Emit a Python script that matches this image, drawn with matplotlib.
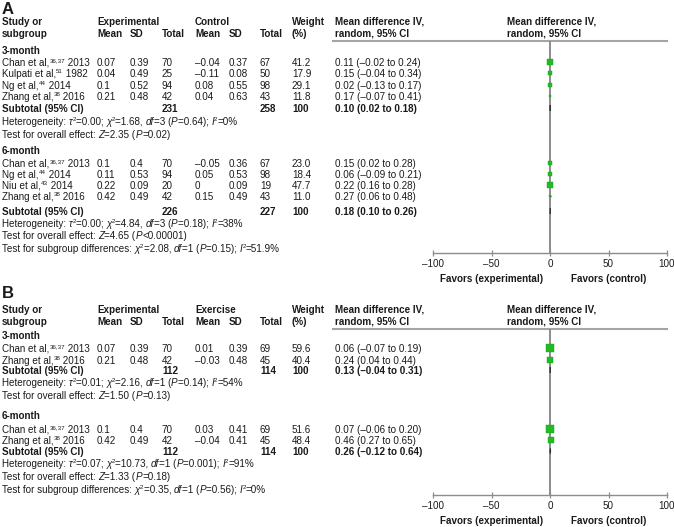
import re
import matplotlib.pyplot as plt
from matplotlib.patches import Polygon
from matplotlib.font_manager import FontProperties

FAMILY = ['Liberation Sans', 'DejaVu Sans']
plt.rcParams['font.family'] = FAMILY

# ---- panel A, 3-month ----
a3_study = ['Chan et al,^{36,37} 2013', 'Kulpati et al,^{51} 1982',
            'Ng et al,^{44} 2014', 'Zhang et al,^{38} 2016']
a3_exp_mean = ['0.07', '0.04', '0.1', '0.21']
a3_exp_sd = ['0.39', '0.49', '0.52', '0.48']
a3_exp_n = [70, 25, 94, 42]
a3_ctl_mean = ['-0.04', '-0.11', '0.08', '0.04']
a3_ctl_sd = ['0.37', '0.08', '0.55', '0.63']
a3_ctl_n = [67, 50, 98, 43]
a3_weight = [41.2, 17.9, 29.1, 11.8]
a3_md = [0.11, 0.15, 0.02, 0.17]
a3_lo = [-0.02, -0.04, -0.13, -0.07]
a3_hi = [0.24, 0.34, 0.17, 0.41]
a3_total = [231, 258]
a3_sub = [0.10, 0.02, 0.18]
a3_het = 'Heterogeneity: $τ$^{2}=0.00; $χ$^{2}=1.68, $df$=3 ($P$=0.64); $I$^{2}=0%'
a3_test = 'Test for overall effect: $Z$=2.35 ($P$=0.02)'

# ---- panel A, 6-month ----
a6_study = ['Chan et al,^{36,37} 2013', 'Ng et al,^{44} 2014',
            'Niu et al,^{43} 2014', 'Zhang et al,^{38} 2016']
a6_exp_mean = ['0.1', '0.11', '0.22', '0.42']
a6_exp_sd = ['0.4', '0.53', '0.09', '0.49']
a6_exp_n = [70, 94, 20, 42]
a6_ctl_mean = ['-0.05', '0.05', '0', '0.15']
a6_ctl_sd = ['0.36', '0.53', '0.09', '0.49']
a6_ctl_n = [67, 98, 19, 43]
a6_weight = [23.0, 18.4, 47.7, 11.0]
a6_md = [0.15, 0.06, 0.22, 0.27]
a6_lo = [0.02, -0.09, 0.16, 0.06]
a6_hi = [0.28, 0.21, 0.28, 0.48]
a6_total = [226, 227]
a6_sub = [0.18, 0.10, 0.26]
a6_het = 'Heterogeneity: $τ$^{2}=0.00; $χ$^{2}=4.84, $df$=3 ($P$=0.18); $I$^{2}=38%'
a6_test = 'Test for overall effect: $Z$=4.65 ($P$<0.00001)'
a_diff = 'Test for subgroup differences: $χ$^{2}=2.08, $df$=1 ($P$=0.15); $I$^{2}=51.9%'

# ---- panel B, 3-month ----
b3_study = ['Chan et al,^{36,37} 2013', 'Zhang et al,^{38} 2016']
b3_exp_mean = ['0.07', '0.21']
b3_exp_sd = ['0.39', '0.48']
b3_exp_n = [70, 42]
b3_ctl_mean = ['0.01', '-0.03']
b3_ctl_sd = ['0.39', '0.48']
b3_ctl_n = [69, 45]
b3_weight = [59.6, 40.4]
b3_md = [0.06, 0.24]
b3_lo = [-0.07, 0.04]
b3_hi = [0.19, 0.44]
b3_total = [112, 114]
b3_sub = [0.13, -0.04, 0.31]
b3_het = 'Heterogeneity: $τ$^{2}=0.01; $χ$^{2}=2.16, $df$=1 ($P$=0.14); $I$^{2}=54%'
b3_test = 'Test for overall effect: $Z$=1.50 ($P$=0.13)'

# ---- panel B, 6-month ----
b6_study = ['Chan et al,^{36,37} 2013', 'Zhang et al,^{38} 2016']
b6_exp_mean = ['0.1', '0.42']
b6_exp_sd = ['0.4', '0.49']
b6_exp_n = [70, 42]
b6_ctl_mean = ['0.03', '-0.04']
b6_ctl_sd = ['0.41', '0.41']
b6_ctl_n = [69, 45]
b6_weight = [51.6, 48.4]
b6_md = [0.07, 0.46]
b6_lo = [-0.06, 0.27]
b6_hi = [0.20, 0.65]
b6_total = [112, 114]
b6_sub = [0.26, -0.12, 0.64]
b6_het = 'Heterogeneity: $τ$^{2}=0.07; $χ$^{2}=10.73, $df$=1 ($P$=0.001); $I$^{2}=91%'
b6_test = 'Test for overall effect: $Z$=1.33 ($P$=0.18)'
b_diff = 'Test for subgroup differences: $χ$^{2}=0.35, $df$=1 ($P$=0.56); $I$^{2}=0%'

xticks = [-100, -50, 0, 50, 100]

W, H = 674, 527
FS = 7.1
GREEN = '#22bb22'
GREY = '#8c8c8c'
INK = '#1a1a1a'
COLX = [2, 97, 130, 162, 195, 229, 260, 292, 335]
DY = 3.6  # centre -> baseline

fig = plt.figure(figsize=(W / 100, H / 100), dpi=100)
base = fig.add_axes([0, 0, 1, 1])
base.set_xlim(0, W)
base.set_ylim(H, 0)
base.axis('off')
renderer = fig.canvas.get_renderer()
TOK = re.compile(r'(\$[^$]*\$|\^\{[^}]*\})')


def d(s):
    return str(s).replace('-', '\u2013')


def width(s, size, weight, style):
    fp = FontProperties(family=FAMILY, size=size, weight=weight, style=style)
    w1 = renderer.get_text_width_height_descent(s + '|', fp, ismath=False)[0]
    w0 = renderer.get_text_width_height_descent('|', fp, ismath=False)[0]
    return (w1 - w0) * 100 / fig.dpi


def txt(x, y, s, bold=False, size=FS):
    # tiny markup: $..$ italic, ^{..} superscript
    weight = 'bold' if bold else 'normal'
    for part in TOK.split(str(s)):
        if not part:
            continue
        style, sz, dy = 'normal', size, 0
        if part.startswith('$'):
            part, style = part[1:-1], 'italic'
        elif part.startswith('^{'):
            part, sz, dy = part[2:-1], size * 0.62, -3.3
        base.text(x, y + DY + dy, part, fontsize=sz, fontweight=weight, fontstyle=style,
                  va='baseline', ha='left', color=INK)
        x += width(part, sz, weight, style)


def ci(m, l, h):
    return f'{m:.2f} ({l:.2f} to {h:.2f})'.replace('-', '\u2013')


def header(y1, y2, y_line, ctl_name):
    for x, s in [(2, 'Study or'), (97, 'Experimental'), (195, ctl_name),
                 (292, 'Weight'), (335, 'Mean difference IV,'), (507, 'Mean difference IV,')]:
        txt(x, y1, s, bold=True)
    for x, s in [(2, 'subgroup'), (97, 'Mean'), (130, 'SD'), (162, 'Total'),
                 (195, 'Mean'), (229, 'SD'), (260, 'Total'), (292, '(%)'),
                 (335, 'random, 95% CI'), (507, 'random, 95% CI')]:
        txt(x, y2, s, bold=True)
    base.plot([333, 667], [y_line, y_line], color='#a5a5a5', lw=1.5)


def forest_axes(top, bottom):
    ax = fig.add_axes([433 / W, 1 - bottom / H, 234 / W, (bottom - top) / H])
    ax.set_xlim(-100, 100)
    ax.set_ylim(bottom, top)
    ax.patch.set_alpha(0)
    for sp in ['top', 'left', 'right']:
        ax.spines[sp].set_visible(False)
    ax.spines['bottom'].set_color(GREY)
    ax.spines['bottom'].set_linewidth(1.0)
    ax.set_yticks([])
    ax.set_xticks(xticks)
    ax.set_xticklabels([d(t) for t in xticks])
    ax.tick_params(axis='x', direction='inout', length=5, width=0.9, color=GREY,
                   labelsize=FS, pad=1.5, labelcolor=INK)
    ax.axvline(0, color=GREY, lw=1.4, zorder=1)
    ax.text(-50, bottom + 25 + DY, 'Favors (experimental)', ha='center', va='baseline',
            fontsize=FS, fontweight='bold', color=INK)
    ax.text(50, bottom + 25 + DY, 'Favors (control)', ha='center', va='baseline',
            fontsize=FS, fontweight='bold', color=INK)
    return ax


def group(ax, y_title, y_rows, y_sub, y_het, y_test, title, cols, weight, md, lo, hi,
          total, sub, het, test):
    txt(2, y_title, title, bold=True)
    for i, y in enumerate(y_rows):
        vals = [c[i] for c in cols]
        vals = [vals[0]] + [d(v) for v in vals[1:]] + [f'{weight[i]:.1f}', ci(md[i], lo[i], hi[i])]
        for x, s in zip(COLX, vals):
            txt(x, y, s)
        ax.hlines(y, lo[i], hi[i], color='#222222', lw=0.8, zorder=2)
        ax.plot(md[i], y, 's', ms=(1.5 + 0.11 * weight[i]) * 0.72, color=GREEN,
                mec='#1d9e1d', mew=0.3, zorder=3, clip_on=False)
    txt(2, y_sub, 'Subtotal (95% CI)', bold=True)
    txt(162, y_sub, str(total[0]), bold=True)
    txt(260, y_sub, str(total[1]), bold=True)
    txt(292, y_sub, '100', bold=True)
    txt(335, y_sub, ci(*sub), bold=True)
    ax.add_patch(Polygon([(sub[1], y_sub), (sub[0], y_sub - 3), (sub[2], y_sub), (sub[0], y_sub + 3)],
                         closed=True, fc='#333333', ec='#333333', lw=0.6, zorder=3))
    txt(2, y_het, het)
    txt(2, y_test, test)


# ---------------- panel A ----------------
base.text(2, 14, 'A', fontsize=12, fontweight='bold', va='baseline', color=INK)
header(21, 33, 41, 'Control')
axA = forest_axes(41, 253)
group(axA, 50, [62, 73, 85, 96], 108, 121, 134, '3-month',
      [a3_study, a3_exp_mean, a3_exp_sd, a3_exp_n, a3_ctl_mean, a3_ctl_sd, a3_ctl_n],
      a3_weight, a3_md, a3_lo, a3_hi, a3_total, a3_sub, a3_het, a3_test)
group(axA, 150, [163, 174, 185, 196], 211, 223, 235, '6-month',
      [a6_study, a6_exp_mean, a6_exp_sd, a6_exp_n, a6_ctl_mean, a6_ctl_sd, a6_ctl_n],
      a6_weight, a6_md, a6_lo, a6_hi, a6_total, a6_sub, a6_het, a6_test)
txt(2, 248, a_diff)

# ---------------- panel B ----------------
base.text(2, 298, 'B', fontsize=12, fontweight='bold', va='baseline', color=INK)
header(309, 321, 329, 'Exercise')
axB = forest_axes(329, 495)
group(axB, 335, [348, 360], 370, 382, 395, '3-month',
      [b3_study, b3_exp_mean, b3_exp_sd, b3_exp_n, b3_ctl_mean, b3_ctl_sd, b3_ctl_n],
      b3_weight, b3_md, b3_lo, b3_hi, b3_total, b3_sub, b3_het, b3_test)
group(axB, 415, [429, 440], 451, 463, 476, '6-month',
      [b6_study, b6_exp_mean, b6_exp_sd, b6_exp_n, b6_ctl_mean, b6_ctl_sd, b6_ctl_n],
      b6_weight, b6_md, b6_lo, b6_hi, b6_total, b6_sub, b6_het, b6_test)
txt(2, 489, b_diff)

fig.savefig('out.png', dpi=100)
